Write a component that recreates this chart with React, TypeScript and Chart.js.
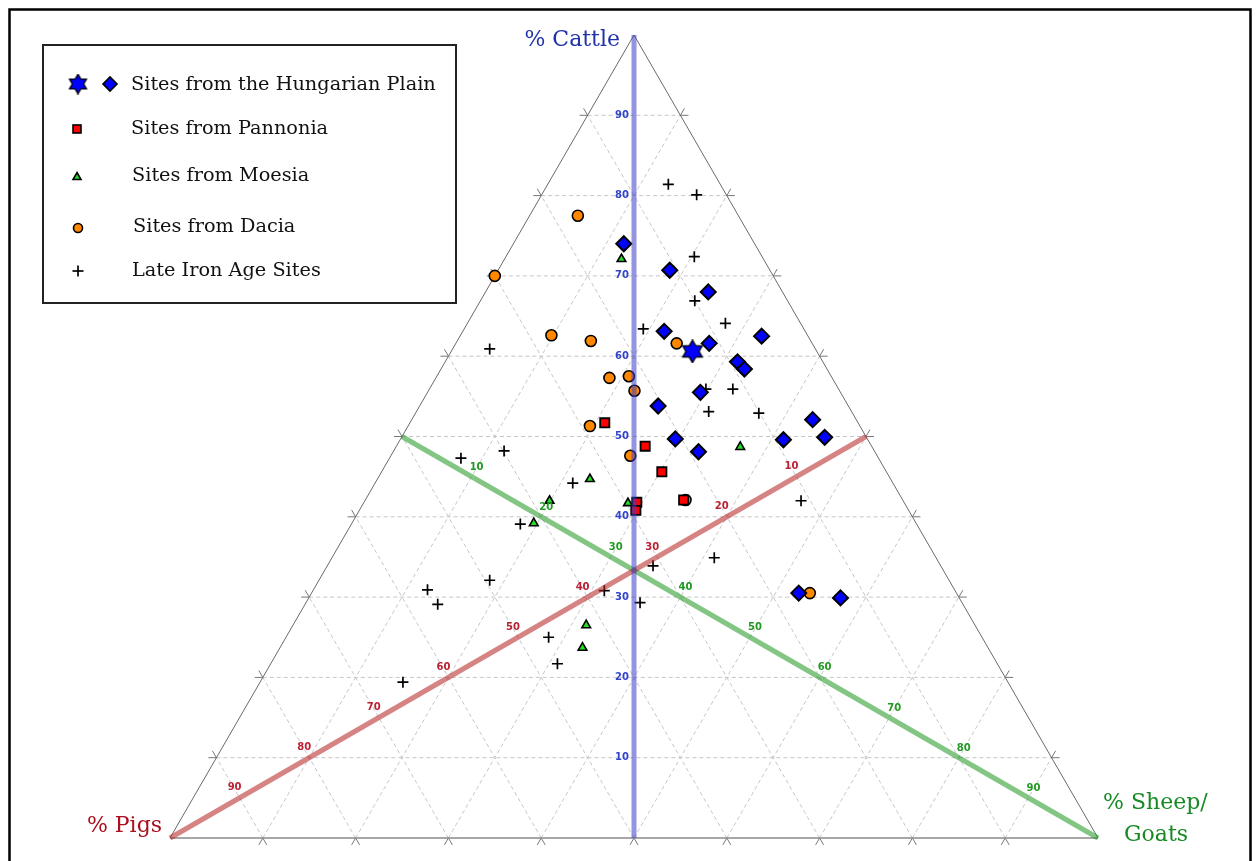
import React, { useEffect, useRef } from "react";
import { Chart, registerables } from "chart.js";

Chart.register(...registerables);

// ---- Data (ternary percentages; pigs = 100 - cattle - sheep) ----
const tickValues = [10, 20, 30, 40, 50, 60, 70, 80, 90];

const hungarianCattle = [74.0, 70.7, 68.0, 63.1, 61.6, 62.5, 59.3, 58.4, 55.5, 53.8, 49.7, 48.1, 49.6, 52.1, 49.9, 30.5, 29.9];
const hungarianSheep = [11.9, 18.5, 24.0, 21.7, 27.3, 32.5, 31.5, 32.7, 29.4, 25.7, 29.6, 32.9, 41.3, 43.2, 45.6, 52.5, 57.3];
const hungarianStarCattle = [60.6];
const hungarianStarSheep = [26.0];
const pannoniaCattle = [51.7, 48.8, 45.6, 42.1, 41.8, 40.8];
const pannoniaSheep = [21.0, 26.8, 30.2, 34.3, 29.4, 29.8];
const moesiaCattle = [72.1, 44.7, 42.0, 39.2, 41.7, 48.7, 26.5, 23.7];
const moesiaSheep = [12.6, 22.9, 19.9, 19.6, 28.5, 37.1, 31.6, 32.6];
const daciaCattle = [77.5, 70.0, 62.6, 61.9, 57.3, 57.5, 55.7, 51.3, 47.6, 61.6, 30.5, 42.1];
const daciaSheep = [5.2, 0.0, 9.8, 14.4, 18.7, 20.7, 22.2, 19.6, 25.8, 23.8, 53.7, 34.5];
const ironAgeCattle = [81.4, 80.1, 72.4, 66.9, 64.1, 63.4, 60.9, 55.9, 55.9, 53.1, 52.9, 42.0, 47.3, 48.2, 44.2, 39.1, 33.9, 30.8, 29.3, 32.1, 30.9, 29.1, 25.0, 21.7, 19.4, 34.9];
const ironAgeSheep = [13.0, 16.7, 20.3, 23.1, 27.8, 19.3, 4.0, 29.8, 32.7, 31.5, 37.0, 47.0, 7.7, 11.9, 21.3, 18.2, 35.1, 31.4, 36.0, 18.4, 12.3, 14.3, 28.3, 30.9, 15.4, 41.2];

const legendLabels = [
  "Sites from the Hungarian Plain",
  "Sites from Pannonia",
  "Sites from Moesia",
  "Sites from Dacia",
  "Late Iron Age Sites",
];

// ternary (cattle, sheep) -> cartesian value space (x: 0..100, y: cattle 0..100)
const toXY = (c: number, s: number) => ({ x: s + c / 2, y: c });
const series = (cs: number[], ss: number[]) => cs.map((c, i) => toXY(c, ss[i]));

function makeHexagram(r: number): HTMLCanvasElement {
  const size = Math.ceil(r * 2 + 4);
  const cv = document.createElement("canvas");
  cv.width = size;
  cv.height = size;
  const g = cv.getContext("2d")!;
  const cx = size / 2;
  const cy = size / 2;
  const tri = (rot: number) => {
    g.beginPath();
    for (let k = 0; k < 3; k++) {
      const a = rot + (k * 2 * Math.PI) / 3;
      const px = cx + r * Math.cos(a);
      const py = cy + r * Math.sin(a);
      if (k === 0) g.moveTo(px, py);
      else g.lineTo(px, py);
    }
    g.closePath();
  };
  g.lineWidth = 2.6;
  g.strokeStyle = "#000";
  g.lineJoin = "miter";
  tri(-Math.PI / 2);
  g.stroke();
  tri(Math.PI / 2);
  g.stroke();
  g.fillStyle = "#0000ff";
  tri(-Math.PI / 2);
  g.fill();
  tri(Math.PI / 2);
  g.fill();
  return cv;
}

export default function App() {
  const ref = useRef<HTMLCanvasElement | null>(null);

  useEffect(() => {
    if (!ref.current) return;
    const star = makeHexagram(10);
    const starSmall = makeHexagram(8.5);

    const P = (chart: any, c: number, s: number): [number, number] => {
      const v = toXY(c, s);
      return [chart.scales.x.getPixelForValue(v.x), chart.scales.y.getPixelForValue(v.y)];
    };

    const seg = (ctx: CanvasRenderingContext2D, a: [number, number], b: [number, number]) => {
      ctx.beginPath();
      ctx.moveTo(a[0], a[1]);
      ctx.lineTo(b[0], b[1]);
      ctx.stroke();
    };
    // extend line from a through b by len pixels beyond b
    const ext = (ctx: CanvasRenderingContext2D, a: [number, number], b: [number, number], len: number) => {
      const dx = b[0] - a[0];
      const dy = b[1] - a[1];
      const d = Math.hypot(dx, dy) || 1;
      seg(ctx, b, [b[0] + (dx / d) * len, b[1] + (dy / d) * len]);
    };

    const gridPlugin = {
      id: "ternaryGrid",
      beforeDatasetsDraw(chart: any) {
        const ctx: CanvasRenderingContext2D = chart.ctx;
        ctx.save();
        // outer frame
        ctx.strokeStyle = "#000";
        ctx.lineWidth = 2.5;
        ctx.strokeRect(9.5, 9.5, 1241, 880);

        // dashed grid
        ctx.strokeStyle = "#c6c6c6";
        ctx.lineWidth = 1;
        ctx.setLineDash([4, 3]);
        for (const v of tickValues) {
          seg(ctx, P(chart, v, 0), P(chart, v, 100 - v));
          seg(ctx, P(chart, 0, v), P(chart, 100 - v, v));
          seg(ctx, P(chart, 0, 100 - v), P(chart, 100 - v, 0));
        }
        ctx.setLineDash([]);

        // tick extensions
        ctx.strokeStyle = "#777";
        ctx.lineWidth = 1;
        const L = 8;
        for (const v of tickValues) {
          ext(ctx, P(chart, v, 100 - v), P(chart, v, 0), L);
          ext(ctx, P(chart, 0, v), P(chart, v, 0), L);
          ext(ctx, P(chart, v, 0), P(chart, v, 100 - v), L);
          ext(ctx, P(chart, 0, 100 - v), P(chart, v, 100 - v), L);
          ext(ctx, P(chart, 100 - v, v), P(chart, 0, v), L);
          ext(ctx, P(chart, v, 0), P(chart, 0, v), L);
        }

        // triangle edges
        const A = P(chart, 0, 0); // pigs
        const B = P(chart, 0, 100); // sheep
        const C = P(chart, 100, 0); // cattle
        ctx.strokeStyle = "#6a6a6a";
        ctx.lineWidth = 1;
        seg(ctx, A, C);
        seg(ctx, B, C);
        ctx.strokeStyle = "#8a8a8a";
        ctx.lineWidth = 1.6;
        seg(ctx, A, B);
        ctx.restore();
      },
      afterDatasetsDraw(chart: any) {
        const ctx: CanvasRenderingContext2D = chart.ctx;
        ctx.save();
        ctx.font = 'bold 10px "DejaVu Sans"';
        ctx.textBaseline = "middle";
        for (const v of tickValues) {
          const pc = P(chart, v, (100 - v) / 2);
          ctx.fillStyle = "#3344cc";
          ctx.textAlign = "right";
          ctx.fillText(String(v), pc[0] - 5, pc[1]);
          const pp = P(chart, (100 - v) / 2, (100 - v) / 2);
          ctx.fillStyle = "#bb2233";
          ctx.textAlign = "center";
          ctx.fillText(String(v), pp[0] - 5, pp[1] - 10);
          const ps = P(chart, (100 - v) / 2, v);
          ctx.fillStyle = "#229922";
          ctx.fillText(String(v), ps[0] + 5, ps[1] - 9.5);
        }

        // corner titles
        ctx.font = '22px "DejaVu Serif"';
        ctx.fillStyle = "#2233aa";
        ctx.textAlign = "right";
        ctx.fillText("% Cattle", 620, 40);
        ctx.fillStyle = "#aa1020";
        ctx.fillText("% Pigs", 162, 826);
        ctx.fillStyle = "#178a24";
        ctx.textAlign = "left";
        ctx.fillText("% Sheep/", 1103, 803);
        ctx.textAlign = "center";
        ctx.fillText("Goats", 1156, 835);

        // legend box
        ctx.fillStyle = "#fff";
        ctx.fillRect(42, 44, 415, 260);
        ctx.strokeStyle = "#222";
        ctx.lineWidth = 2;
        ctx.strokeRect(43, 45, 413, 258);

        const rowsY = [85, 129, 176, 227, 271];
        const textX = [131, 131, 132, 133, 132];
        ctx.lineWidth = 1.6;
        ctx.strokeStyle = "#000";
        ctx.drawImage(starSmall, 78 - starSmall.width / 2, 84 - starSmall.height / 2);
        ctx.beginPath();
        ctx.moveTo(110 - 7, 84);
        ctx.lineTo(110, 84 - 7);
        ctx.lineTo(110 + 7, 84);
        ctx.lineTo(110, 84 + 7);
        ctx.closePath();
        ctx.fillStyle = "#0000ff";
        ctx.fill();
        ctx.stroke();
        ctx.fillStyle = "#ff0000";
        ctx.fillRect(73, 125, 8, 8);
        ctx.strokeRect(73, 125, 8, 8);
        ctx.beginPath();
        ctx.moveTo(77, 172.5);
        ctx.lineTo(81, 179.5);
        ctx.lineTo(73, 179.5);
        ctx.closePath();
        ctx.fillStyle = "#22dd22";
        ctx.fill();
        ctx.stroke();
        ctx.beginPath();
        ctx.arc(78, 228, 4.5, 0, Math.PI * 2);
        ctx.fillStyle = "#ff8800";
        ctx.fill();
        ctx.stroke();
        ctx.lineWidth = 1.7;
        seg(ctx, [72.5, 271], [83.5, 271]);
        seg(ctx, [78, 265.5], [78, 276.5]);

        ctx.font = '19.3px "DejaVu Serif"';
        ctx.fillStyle = "#111";
        ctx.textAlign = "left";
        legendLabels.forEach((t, i) => ctx.fillText(t, textX[i], rowsY[i]));
        ctx.restore();
      },
    };

    const lineDs = (pts: { x: number; y: number }[], color: string) => ({
      type: "line" as const,
      data: pts,
      borderColor: color,
      borderWidth: 5,
      pointRadius: 0,
      fill: false,
      showLine: true,
      order: 0,
      clip: false as const,
    });

    const chart = new Chart(ref.current, {
      type: "scatter",
      data: {
        datasets: [
          lineDs([toXY(100, 0), toXY(0, 50)], "rgba(60,60,200,0.55)"),
          lineDs([toXY(0, 0), toXY(50, 50)], "rgba(180,30,30,0.55)"),
          lineDs([toXY(0, 100), toXY(50, 0)], "rgba(30,150,30,0.55)"),
          {
            label: "Hungarian Plain (star)",
            data: series(hungarianStarCattle, hungarianStarSheep),
            pointStyle: star as any,
            pointRadius: 10,
            order: 1,
            clip: false as const,
          },
          {
            label: legendLabels[0],
            data: series(hungarianCattle, hungarianSheep),
            pointStyle: "rectRot",
            pointRadius: 7.5,
            backgroundColor: "#0000ff",
            borderColor: "#000",
            borderWidth: 2,
            order: 2,
            clip: false as const,
          },
          {
            label: legendLabels[1],
            data: series(pannoniaCattle, pannoniaSheep),
            pointStyle: "rect",
            pointRadius: 6.5,
            backgroundColor: "#ff0000",
            borderColor: "#000",
            borderWidth: 1.8,
            order: 3,
            clip: false as const,
          },
          {
            label: legendLabels[4],
            data: series(ironAgeCattle, ironAgeSheep),
            pointStyle: "cross",
            pointRadius: 5.5,
            borderColor: "#000",
            borderWidth: 1.7,
            order: 4,
            clip: false as const,
          },
          {
            label: legendLabels[2],
            data: series(moesiaCattle, moesiaSheep),
            pointStyle: "triangle",
            pointRadius: 5,
            backgroundColor: "#22dd22",
            borderColor: "#000",
            borderWidth: 1.6,
            order: 5,
            clip: false as const,
          },
          {
            label: legendLabels[3],
            data: series(daciaCattle, daciaSheep),
            pointStyle: "circle",
            pointRadius: 5.5,
            backgroundColor: "#ff8800",
            borderColor: "#000",
            borderWidth: 1.6,
            order: 6,
            clip: false as const,
          },
        ] as any,
      },
      options: {
        animation: false,
        responsive: false,
        events: [],
        layout: { padding: { left: 170, top: 35, right: 161, bottom: 23 } },
        scales: {
          x: { type: "linear", min: 0, max: 100, display: false },
          y: { type: "linear", min: 0, max: 100, display: false },
        },
        plugins: {
          legend: { display: false },
          tooltip: { enabled: false },
        },
      },
      plugins: [gridPlugin],
    });
    return () => chart.destroy();
  }, []);

  return (
    <div style={{ position: "fixed", left: 0, top: 0, width: 1259, height: 861, background: "#fff" }}>
      <canvas ref={ref} width={1259} height={861} style={{ display: "block" }} />
    </div>
  );
}
